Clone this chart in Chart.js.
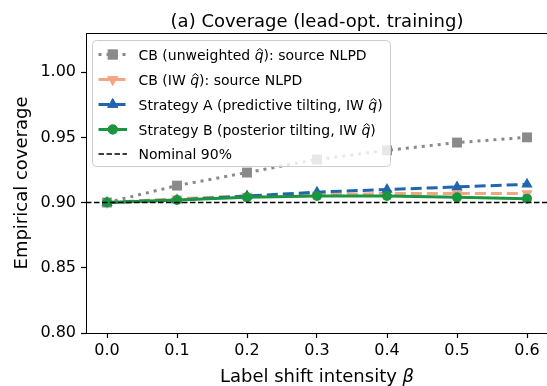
<!DOCTYPE html>
<html>
<head>
<meta charset="utf-8">
<script src="https://cdn.jsdelivr.net/npm/chart.js@4.4.1/dist/chart.umd.min.js"></script>
<style>
  html, body { margin: 0; padding: 0; background: #fff; overflow: hidden; }
  canvas { display: block; }
</style>
</head>
<body>
<!-- a bit wider than the window: the right spine falls just outside the view -->
<canvas id="coverageChart" width="555" height="386"></canvas>
<script>
// label shift intensity (beta) and coverage per method
const betas = [0.0, 0.1, 0.2, 0.3, 0.4, 0.5, 0.6];
const cbUnweighted = [0.900, 0.913, 0.923, 0.933, 0.940, 0.946, 0.950];
const cbWeighted = [0.900, 0.903, 0.905, 0.906, 0.907, 0.907, 0.907];
const strategyA = [0.900, 0.902, 0.905, 0.908, 0.910, 0.912, 0.914];
const strategyB = [0.900, 0.902, 0.904, 0.905, 0.905, 0.904, 0.903];
const nominal = 0.90;

const xTicks = [0.0, 0.1, 0.2, 0.3, 0.4, 0.5, 0.6];
const yTicks = [0.80, 0.85, 0.90, 0.95, 1.00];
const xRange = [-0.03, 0.63];
const yRange = [0.80, 1.03];

const FONT = '"DejaVu Sans", sans-serif';

const toPoints = ys => betas.map((b, i) => ({ x: b, y: ys[i] }));

// legend entries; "q" pieces get drawn as italic q with a hat
const legendRows = [
    ['CB (unweighted ', 'q', '): source NLPD'],
    ['CB (IW ', 'q', '): source NLPD'],
    ['Strategy A (predictive tilting, IW ', 'q', ')'],
    ['Strategy B (posterior tilting, IW ', 'q', ')'],
    ['Nominal 90%']
];

const datasets = [
    {
        data: toPoints(cbUnweighted),
        borderColor: '#8a8a8a', backgroundColor: '#8a8a8a',
        borderWidth: 3, borderDash: [3, 5],
        pointStyle: 'rect', pointRadius: 7, pointBorderWidth: 0,
        order: 4
    },
    {
        data: toPoints(cbWeighted),
        borderColor: '#f4a582', backgroundColor: '#f4a582',
        borderWidth: 3, borderDash: [11, 5],
        pointStyle: 'triangle', pointRotation: 180, pointRadius: 6.5, pointBorderWidth: 0,
        order: 3
    },
    {
        data: toPoints(strategyA),
        borderColor: '#2166ac', backgroundColor: '#2166ac',
        borderWidth: 3, borderDash: [11, 5],
        pointStyle: 'triangle', pointRadius: 6.5, pointBorderWidth: 0,
        order: 2
    },
    {
        data: toPoints(strategyB),
        borderColor: '#1a9641', backgroundColor: '#1a9641',
        borderWidth: 3,
        pointStyle: 'circle', pointRadius: 5, pointBorderWidth: 0,
        order: 1
    },
    {
        data: [{ x: xRange[0], y: nominal }, { x: xRange[1], y: nominal }],
        borderColor: '#000', borderWidth: 1.5, borderDash: [5.5, 2.5],
        pointRadius: 0,
        order: 0
    }
];

// italic q with a circumflex, returns advance width
function drawQHat(ctx, x, y, size) {
    ctx.save();
    ctx.font = 'italic ' + size + 'px ' + FONT;
    ctx.fillText('q', x, y);
    const w = ctx.measureText('q').width;
    const cx = x + w * 0.58;
    const top = y - size * 0.78;
    ctx.beginPath();
    ctx.lineWidth = 1;
    ctx.moveTo(cx - 3, top + 2.5);
    ctx.lineTo(cx, top);
    ctx.lineTo(cx + 3, top + 2.5);
    ctx.stroke();
    ctx.restore();
    return w;
}

const decorations = {
    id: 'decorations',
    afterDraw(chart) {
        const ctx = chart.ctx;
        const area = chart.chartArea;
        ctx.save();

        // top spine
        ctx.strokeStyle = '#000';
        ctx.lineWidth = 1;
        ctx.beginPath();
        ctx.moveTo(area.left, Math.round(area.top) + 0.5);
        ctx.lineTo(area.right, Math.round(area.top) + 0.5);
        ctx.stroke();

        const cx = (area.left + area.right) / 2;
        ctx.fillStyle = '#000';
        ctx.textAlign = 'center';
        ctx.textBaseline = 'alphabetic';

        // title
        ctx.font = '18px ' + FONT;
        ctx.fillText('(a) Coverage (lead-opt. training)', cx, 26.5);

        // x axis label with italic beta
        const xl = 'Label shift intensity ';
        ctx.font = '18px ' + FONT;
        const w1 = ctx.measureText(xl).width;
        ctx.font = 'italic 18px ' + FONT;
        const w2 = ctx.measureText('β').width;
        let x0 = cx - (w1 + w2) / 2;
        ctx.textAlign = 'left';
        ctx.font = '18px ' + FONT;
        ctx.fillText(xl, x0, 381.5);
        ctx.font = 'italic 18px ' + FONT;
        ctx.fillText('β', x0 + w1, 381.5);

        // y axis label
        ctx.save();
        ctx.translate(27, (area.top + area.bottom) / 2);
        ctx.rotate(-Math.PI / 2);
        ctx.textAlign = 'center';
        ctx.font = '18px ' + FONT;
        ctx.fillText('Empirical coverage', 0, 0);
        ctx.restore();

        // legend box
        const bx = 92.5, by = 40.5, bw = 298, bh = 126;
        ctx.beginPath();
        ctx.roundRect(bx, by, bw, bh, 4);
        ctx.fillStyle = 'rgba(255,255,255,0.8)';
        ctx.fill();
        ctx.strokeStyle = '#cccccc';
        ctx.lineWidth = 1;
        ctx.stroke();

        const rowY = [54.5, 79.5, 104.5, 129.5, 154];
        legendRows.forEach((parts, i) => {
            const ds = chart.data.datasets[i];
            const y = rowY[i];
            ctx.save();
            ctx.strokeStyle = ds.borderColor;
            ctx.lineWidth = ds.borderWidth;
            ctx.setLineDash(ds.borderDash || []);
            ctx.beginPath();
            ctx.moveTo(98.5, y);
            ctx.lineTo(127, y);
            ctx.stroke();
            ctx.setLineDash([]);
            if (ds.pointRadius > 0) {
                ctx.fillStyle = ds.backgroundColor;
                Chart.helpers.drawPoint(ctx, {
                    pointStyle: ds.pointStyle,
                    rotation: ds.pointRotation || 0,
                    radius: ds.pointRadius,
                    borderWidth: 0
                }, 112.75, y);
                ctx.fill();
            }
            ctx.restore();

            ctx.fillStyle = '#000';
            ctx.strokeStyle = '#000';
            ctx.textAlign = 'left';
            ctx.textBaseline = 'alphabetic';
            let tx = 138.5;
            const base = y + 5;
            parts.forEach((p, k) => {
                if (k === 1) {
                    tx += drawQHat(ctx, tx, base, 14);
                } else {
                    ctx.font = '14px ' + FONT;
                    ctx.fillText(p, tx, base);
                    tx += ctx.measureText(p).width;
                }
            });
        });

        ctx.restore();
    }
};

new Chart(document.getElementById('coverageChart'), {
    type: 'line',
    data: { datasets: datasets },
    options: {
        responsive: false,
        animation: false,
        layout: { padding: { top: 33, right: 0, left: 0, bottom: 0 } },
        plugins: {
            legend: { display: false },
            title: { display: false },
            tooltip: { enabled: false }
        },
        scales: {
            x: {
                type: 'linear',
                min: xRange[0], max: xRange[1],
                afterBuildTicks: s => { s.ticks = xTicks.map(v => ({ value: v })); },
                afterFit: s => { s.height = 53; s.paddingLeft = 0; s.paddingRight = 0; },
                ticks: {
                    callback: v => v.toFixed(1),
                    color: '#000',
                    font: { family: FONT, size: 16 },
                    padding: 3,
                    maxRotation: 0
                },
                grid: { drawOnChartArea: false, tickLength: 5, tickColor: '#000', tickWidth: 1.2 },
                border: { color: '#000', width: 1 }
            },
            y: {
                min: yRange[0], max: yRange[1],
                afterBuildTicks: s => { s.ticks = yTicks.map(v => ({ value: v })); },
                afterFit: s => { s.width = 86; s.paddingTop = 0; s.paddingBottom = 0; },
                ticks: {
                    callback: v => v.toFixed(2),
                    color: '#000',
                    font: { family: FONT, size: 16 },
                    padding: 5
                },
                grid: { drawOnChartArea: false, tickLength: 5, tickColor: '#000', tickWidth: 1.2 },
                border: { color: '#000', width: 1 }
            }
        }
    },
    plugins: [decorations]
});
</script>
</body>
</html>
